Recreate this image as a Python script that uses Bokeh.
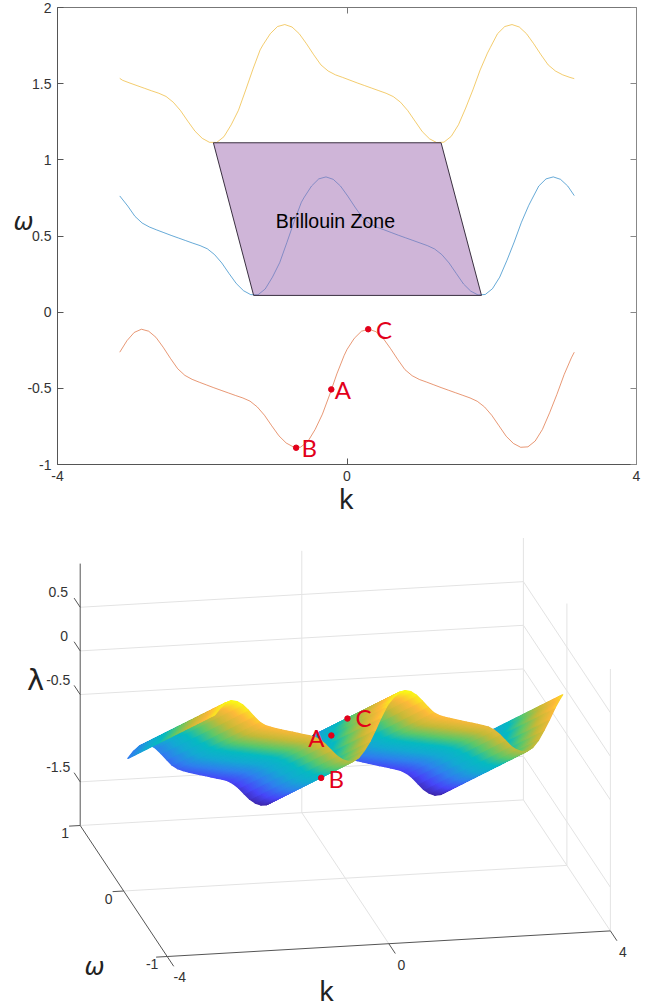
from bokeh.plotting import figure
from bokeh.layouts import column
from bokeh.models import Range1d, FixedTicker, LinearAxis
from bokeh.core.properties import value
from bokeh.embed import file_html
from bokeh.resources import INLINE

# ---------- band data ----------
red_k = [-3.14,-3.04,-2.94,-2.84,-2.74,-2.64,-2.54,-2.44,-2.34,-2.24,-2.14,-2.04,-1.94,-1.84,-1.74,-1.64,-1.54,-1.44,-1.34,-1.24,-1.14,-1.04,-0.94,-0.84,-0.74,-0.64,-0.54,-0.44,-0.34,-0.24,-0.14,-0.04,
         0.00,0.10,0.20,0.30,0.40,0.50,0.60,0.70,0.80,0.90,1.00,1.10,1.20,1.30,1.40,1.50,1.60,1.70,1.80,1.90,2.00,2.10,2.20,2.30,2.40,2.50,2.60,2.70,2.80,2.90,3.00,3.10,3.14]
red_w = [-0.263,-0.187,-0.133,-0.112,-0.125,-0.165,-0.230,-0.303,-0.371,-0.415,-0.441,-0.460,-0.478,-0.496,-0.513,-0.530,-0.547,-0.563,-0.584,-0.622,-0.677,-0.746,-0.812,-0.859,-0.885,-0.886,-0.848,-0.770,-0.670,-0.542,-0.405,-0.285,
         -0.245,-0.172,-0.125,-0.112,-0.128,-0.172,-0.238,-0.310,-0.377,-0.417,-0.442,-0.459,-0.477,-0.495,-0.512,-0.529,-0.546,-0.563,-0.585,-0.622,-0.677,-0.746,-0.815,-0.862,-0.887,-0.884,-0.846,-0.770,-0.660,-0.540,-0.410,-0.300,-0.263]

blue_k = [-3.14,-3.03,-2.93,-2.83,-2.73,-2.63,-2.53,-2.43,-2.33,-2.23,-2.13,-2.03,-1.93,-1.83,-1.73,-1.63,-1.53,-1.43,-1.33,-1.23,-1.13,-1.03,-0.93,-0.83,-0.73,-0.63,-0.59,-0.49,-0.39,-0.29,-0.19,-0.09,
          0.01,0.11,0.21,0.31,0.41,0.51,0.61,0.71,0.81,0.91,1.01,1.11,1.21,1.31,1.41,1.51,1.61,1.71,1.81,1.91,2.01,2.11,2.21,2.31,2.41,2.51,2.55,2.65,2.75,2.85,2.95,3.05,3.14]
blue_w = [0.763,0.697,0.629,0.585,0.559,0.540,0.522,0.504,0.487,0.470,0.453,0.437,0.416,0.378,0.323,0.254,0.188,0.141,0.115,0.114,0.152,0.230,0.325,0.458,0.595,0.722,0.755,0.828,0.875,0.888,0.872,0.828,
          0.762,0.690,0.623,0.583,0.558,0.541,0.523,0.505,0.488,0.471,0.454,0.437,0.415,0.378,0.323,0.254,0.185,0.138,0.113,0.116,0.154,0.230,0.340,0.460,0.590,0.700,0.737,0.828,0.875,0.888,0.872,0.828,0.765]

yellow_k = [-3.14,-3.10,-3.00,-2.90,-2.80,-2.70,-2.60,-2.50,-2.40,-2.30,-2.20,-2.10,-2.00,-1.90,-1.80,-1.70,-1.60,-1.50,-1.40,-1.30,-1.20,-1.16,-1.06,-0.96,-0.86,-0.76,-0.66,-0.56,-0.46,-0.36,-0.26,-0.16,-0.06,
            0.04,0.14,0.24,0.34,0.44,0.54,0.64,0.74,0.84,0.94,1.04,1.14,1.24,1.34,1.44,1.54,1.64,1.74,1.84,1.94,1.98,2.08,2.18,2.28,2.38,2.48,2.58,2.68,2.78,2.88,2.98,3.08,3.14]
yellow_w = [1.535,1.522,1.504,1.487,1.470,1.453,1.437,1.416,1.378,1.323,1.254,1.188,1.141,1.115,1.114,1.152,1.230,1.325,1.458,1.595,1.722,1.755,1.828,1.875,1.888,1.872,1.828,1.762,1.690,1.623,1.583,1.558,1.541,
            1.523,1.505,1.488,1.471,1.454,1.437,1.415,1.378,1.323,1.254,1.185,1.138,1.113,1.116,1.154,1.230,1.340,1.460,1.590,1.700,1.737,1.828,1.875,1.888,1.872,1.828,1.762,1.690,1.623,1.583,1.558,1.541,1.533]

zone_k = [-1.846, 1.30, 1.858, -1.29]
zone_w = [1.112, 1.112, 0.11, 0.11]

point_names = ["A", "B", "C"]
point_k = [-0.217, -0.703, 0.293]
point_w = [-0.507, -0.890, -0.112]
# same three points as placed on the 3-D panel
point3_k = [-0.217, -0.703, 0.293]
point3_w = [0.044, -0.34, 0.324]
point3_l = [-0.39, -0.57, -0.425]

x_ticks = [-4, 0, 4]
y_ticks = [-1, -0.5, 0, 0.5, 1, 1.5, 2]
y_tick_labels = ["-1", "-0.5", "0", "0.5", "1", "1.5", "2"]
lam_ticks = [0.5, 0, -0.5, -1.5]
lam_tick_labels = ["0.5", "0", "-0.5", "-1.5"]
om_ticks = [1, 0, -1]
k3_ticks = [-4, 0, 4]
mesh_omega = [1 - i * 0.025 for i in range(81)]

RED = "#E2001A"
TXT = "#333333"
TICKFONT = "Liberation Sans"
SPLIT = 525

# ---------- top panel: the plot area fills the canvas, the axes are pinned inside it ----------
ux = (636 - 57) / 8
uy = (464 - 7) / 3
p1 = figure(width=665, height=SPLIT, output_backend="svg", toolbar_location=None,
            x_range=Range1d(-4 - 57 / ux, 4 + (665 - 636) / ux),
            y_range=Range1d(-1 - (SPLIT - 464) / uy, 2 + 7 / uy),
            x_axis_type=None, y_axis_type=None,
            min_border_left=0, min_border_right=0, min_border_top=0, min_border_bottom=0)
p1.grid.visible = False
p1.outline_line_color = None


def make_axis(ticks, overrides, loc, bounds, shown, color):
    ax = LinearAxis(ticker=FixedTicker(ticks=ticks), major_tick_in=6, major_tick_out=0,
                    minor_tick_line_color=None, axis_line_color=color, major_tick_line_color=color,
                    fixed_location=loc, bounds=bounds)
    if shown:
        ax.major_label_overrides = overrides
        ax.major_label_text_font = TICKFONT
        ax.major_label_text_font_size = "14px"
        ax.major_label_text_color = TXT
        ax.major_label_standoff = 6
    else:
        ax.major_label_text_color = None
        ax.major_label_text_font_size = "0px"
    return ax


p1.add_layout(make_axis(x_ticks, {t: str(t) for t in x_ticks}, -1, (-4, 4), True, "#555555"), "below")
p1.add_layout(make_axis(y_ticks, dict(zip(y_ticks, y_tick_labels)), -4, (-1, 2), True, "#555555"), "left")
p1.add_layout(make_axis(x_ticks, {}, 2, (-4, 4), False, "#777777"), "above")
p1.add_layout(make_axis(y_ticks, {}, 4, (-1, 2), False, "#888888"), "right")

p1.line(yellow_k, yellow_w, line_color="#EDB120", line_width=1, line_alpha=0.65)
p1.line(blue_k, blue_w, line_color="#0072BD", line_width=1, line_alpha=0.6)
p1.line(red_k, red_w, line_color="#D95319", line_width=1, line_alpha=0.6)
p1.patch(zone_k, zone_w, fill_color="#9F6BB1", fill_alpha=0.5, line_color="#3a3040", line_width=1)
p1.scatter(point_k, point_w, size=5.5, color=RED)

p1.text([-0.16], [0.6], text=["Brillouin Zone"], text_font=value(TICKFONT), text_font_size="19.5px",
        text_color="#000000", text_align="center", text_baseline="middle")
p1.text([-0.01], [-1.217], text=["k"], text_font=value("Noto Sans"), text_font_size="28px",
        text_color="#222222", text_align="center", text_baseline="middle")
p1.text([-4.47], [0.59], text=["\u03c9"], text_font=value("DejaVu Sans"), text_font_style="italic",
        text_font_size="24px", text_color="#222222", text_align="center", text_baseline="middle")
p1.text([k + d for k, d in zip(point_k, (0.16, 0.18, 0.22))], point_w, text=point_names, text_font=value("Lato"),
        text_font_size="24px", text_color=RED, text_align="center", text_baseline="middle")

# ---------- lower panel: 3-D axes seen through an orthographic view ----------
p2 = figure(width=665, height=1007 - SPLIT, output_backend="svg", toolbar_location=None,
            x_range=Range1d(0, 665), y_range=Range1d(1007, SPLIT),
            x_axis_type=None, y_axis_type=None,
            min_border_left=0, min_border_right=0, min_border_top=0, min_border_bottom=0)
p2.grid.visible = False
p2.outline_line_color = None


def project(k, w, l):
    return (79.7 + (k + 4) * 55.4 + (1 - w) * 43.5,
            825.0 - (k + 4) * 3.2 + (1 - w) * 65.5 - (l + 2) * 87.3)


def seg(a, b, **kw):
    pa, pb = project(*a), project(*b)
    p2.line([pa[0], pb[0]], [pa[1], pb[1]], **kw)


GRID = dict(line_color="#E3E3E3", line_width=1)
AX = dict(line_color="#555555", line_width=1)

for l in lam_ticks:
    seg((-4, 1, l), (4, 1, l), **GRID)
    seg((4, 1, l), (4, -1, l), **GRID)
seg((4, 1, -2), (4, -1, -2), **GRID)
seg((-4, 1, -2), (4, 1, -2), **GRID)
seg((-4, 0, -2), (4, 0, -2), **GRID)
seg((0, 1, -2), (0, -1, -2), **GRID)
seg((0, 1, -2), (0, 1, 1), **GRID)
seg((4, 1, -2), (4, 1, 1), **GRID)
seg((4, 0, -2), (4, 0, 1), **GRID)
seg((4, -1, -2), (4, -1, 1), **GRID)

seg((-4, 1, -2), (-4, 1, 1), **AX)
seg((-4, 1, -2), (-4, -1, -2), **AX)
seg((-4, -1, -2), (4, -1, -2), **AX)

for l in lam_ticks:
    seg((-4, 1, l), (-4, 1.14, l), **AX)
for w in om_ticks:
    seg((-4, w, -2), (-4.2, w, -2), **AX)
for k in k3_ticks:
    seg((k, -1, -2), (k, -1.15, -2), **AX)

PAR = [(0.00, (62, 38, 168)), (0.12, (71, 70, 248)), (0.25, (47, 128, 238)), (0.38, (20, 169, 211)),
       (0.50, (6, 186, 193)), (0.62, (92, 200, 106)), (0.75, (196, 186, 56)), (0.88, (253, 185, 58)),
       (1.00, (249, 251, 21))]


def parula(c):
    c = min(max(c, 0), 1)
    for (c0, a), (c1, b) in zip(PAR, PAR[1:]):
        if c <= c1:
            t = (c - c0) / (c1 - c0)
            return "#%02x%02x%02x" % tuple(round(a[i] + t * (b[i] - a[i])) for i in range(3))
    return "#f9fb15"


# surface: lambda = lowest band(k) - omega, coloured by height
zmin = min(red_w) - 1
zmax = max(red_w) + 1
quads = []
for i in range(len(red_k) - 1):
    for j in range(len(mesh_omega) - 1):
        corners = [(red_k[i], mesh_omega[j], red_w[i] - mesh_omega[j]),
                   (red_k[i + 1], mesh_omega[j], red_w[i + 1] - mesh_omega[j]),
                   (red_k[i + 1], mesh_omega[j + 1], red_w[i + 1] - mesh_omega[j + 1]),
                   (red_k[i], mesh_omega[j + 1], red_w[i] - mesh_omega[j + 1])]
        ck = sum(c[0] for c in corners) / 4
        cw = sum(c[1] for c in corners) / 4
        cl = sum(c[2] for c in corners) / 4
        depth = -26855 * ck - 34217 * cw + 26647 * cl
        quads.append((depth, corners, (cl - zmin) / (zmax - zmin)))
quads.sort(key=lambda q: q[0])
xs, ys, cols = [], [], []
for d, corners, c in quads:
    pts = [project(*q) for q in corners]
    xs.append([q[0] for q in pts])
    ys.append([q[1] for q in pts])
    cols.append(parula(c))
p2.patches(xs, ys, fill_color=cols, line_color=cols, line_width=1.2, line_join="round")

pts3 = [project(a, b, c) for a, b, c in zip(point3_k, point3_w, point3_l)]
p2.scatter([q[0] for q in pts3], [q[1] for q in pts3], size=5.5, color=RED)
p2.text([q[0] + d for q, d in zip(pts3, (-15, 15, 16))], [q[1] + d for q, d in zip(pts3, (2, 1, -1))], text=point_names,
        text_font=value("Lato"), text_font_size="24px", text_color=RED, text_align="center", text_baseline="middle")


def tick_text(xs_, ys_, labels):
    p2.text(xs_, ys_, text=labels, text_font=value(TICKFONT), text_font_size="14px", text_color=TXT,
            text_align="center", text_baseline="middle")


lam_pos = [project(-4, 1, l) for l in lam_ticks]
tick_text([q[0] - 22 + (6 if s == "0" else 0) for q, s in zip(lam_pos, lam_tick_labels)], [q[1] - 15 for q in lam_pos], lam_tick_labels)
om_pos = [project(-4.2, w, -2) for w in om_ticks]
tick_text([q[0] - 4 for q in om_pos], [q[1] + 7 for q in om_pos], [str(w) for w in om_ticks])
k_pos = [project(k, -1.15, -2) for k in k3_ticks]
tick_text([q[0] + 6 for q in k_pos], [q[1] + 11 for q in k_pos], [str(k) for k in k3_ticks])

p2.text([326], [989], text=["k"], text_font=value("Noto Sans"), text_font_size="28px", text_color="#222222",
        text_align="center", text_baseline="middle")
p2.text([94], [966], text=["\u03c9"], text_font=value("DejaVu Sans"), text_font_style="italic", text_font_size="24px",
        text_color="#222222", text_align="center", text_baseline="middle")
p2.text([35], [679], text=["\u03bb"], text_font=value("DejaVu Sans"), text_font_size="29px", text_color="#222222",
        text_align="center", text_baseline="middle")

page = column(p1, p2, spacing=0)
open("out.html", "w").write(file_html(page, INLINE))
